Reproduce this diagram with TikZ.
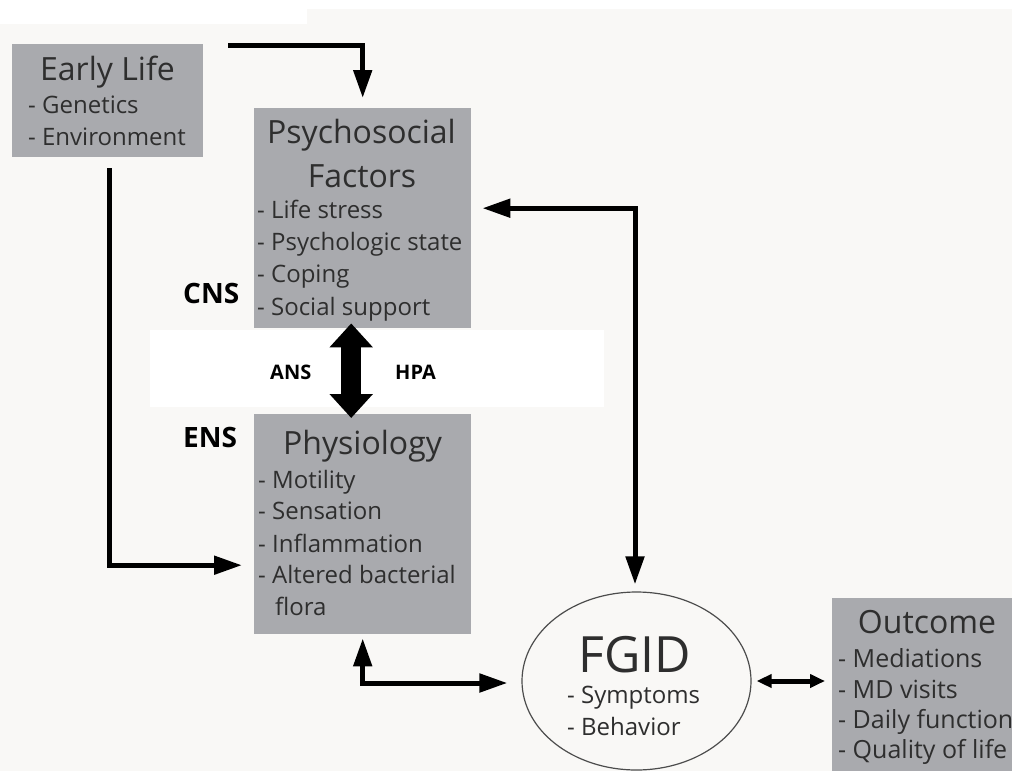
\documentclass[tikz,border=0pt]{standalone}
\usepackage{fontspec}
\setmainfont{Open Sans}
\usetikzlibrary{arrows.meta,shapes.geometric}
\definecolor{bg}{HTML}{F9F8F6}
\definecolor{boxgray}{HTML}{A9AAAE}
\definecolor{txt}{HTML}{2E2E2E}
\tikzset{
  box/.style={fill=boxgray, draw=none, inner sep=0pt, anchor=north west},
  ttl/.style={font=\fontsize{32}{38}\selectfont, text=txt, anchor=base, inner sep=0pt},
  itm/.style={font=\fontsize{24}{29}\selectfont, text=txt, anchor=base west, inner sep=0pt},
  oitm/.style={itm, font=\fontsize{25}{30}\selectfont},
  lbl/.style={font=\bfseries\fontsize{28}{32}\selectfont, text=black, anchor=base west, inner sep=0pt},
  slbl/.style={font=\bfseries\fontsize{20}{24}\selectfont, text=black, anchor=base west, inner sep=0pt},
  conn/.style={line width=5pt, black},
  atip/.tip={Triangle[length=28pt,width=18pt]},
  stip/.tip={Triangle[length=15pt,width=13pt]},
  btip/.tip={Triangle[length=24pt,width=42pt]}
}
\begin{document}
\begin{tikzpicture}[x=1pt,y=-1pt]
\useasboundingbox (0,0) rectangle (1012,771);
% background
\fill[bg] (0,0) rectangle (1012,771);
\fill[white] (0,0) rectangle (1012,9);
\fill[white] (0,0) rectangle (307,24);
\fill[white] (150,330) rectangle (604,407);

% boxes
\node[box, minimum width=191pt, minimum height=113pt] (early) at (12,44) {};
\node[box, minimum width=217pt, minimum height=220pt] (psy) at (254,108) {};
\node[box, minimum width=217pt, minimum height=220pt] (phys) at (254,414) {};
\node[box, minimum width=200pt, minimum height=190pt] (out) at (832,598) {};
\node[ellipse, draw=black!70, line width=1.2pt, fill=bg, minimum width=229pt, minimum height=178pt, inner sep=0pt] (fgid) at (636.5,681) {};

% Early Life text
\node[ttl] (t1) at (107.5,80) {Early Life};
\node[itm] (e1) at (28,113) {- Genetics};
\node[itm] (e2) at (28,145) {- Environment};

% Psychosocial text
\node[ttl] (t2) at (361.5,143) {Psychosocial};
\node[ttl] (t2b) at (362,187) {Factors};
\node[itm] (p1) at (257,218) {- Life stress};
\node[itm] (p2) at (257,250) {- Psychologic state};
\node[itm] (p3) at (257,282) {- Coping};
\node[itm] (p4) at (257,315) {- Social support};

% Physiology text
\node[ttl] (t3) at (362.5,454) {Physiology};
\node[itm] (h1) at (258,488) {- Motility};
\node[itm] (h2) at (258,519) {- Sensation};
\node[itm] (h3) at (258,552) {- Inflammation};
\node[itm] (h4) at (258,583) {- Altered bacterial};
\node[itm] (h5) at (275,615) {flora};

% Outcome text
\node[ttl] (t4) at (927,633) {Outcome};
\node[oitm] (o1) at (838,667) {- Mediations};
\node[oitm] (o2) at (838,698) {- MD visits};
\node[oitm] (o3) at (838,728) {- Daily function};
\node[oitm] (o4) at (838,758) {- Quality of life};

% FGID text
\node[font=\fontsize{50}{58}\selectfont, text=txt, anchor=base, inner sep=0pt] (t5) at (634.5,672) {FGID};
\node[itm] (f1) at (567,703) {- Symptoms};
\node[itm] (f2) at (567,735) {- Behavior};

% side labels
\node[lbl] (cns) at (183,303) {CNS};
\node[lbl] (ens) at (183,447) {ENS};
\node[slbl] (ans) at (270,379) {ANS};
\node[slbl] (hpa) at (395,379) {HPA};

% connectors
\draw[conn, -{atip}] ([xshift=25pt,yshift=-1pt]early.north east) -| ([yshift=10pt]psy.north);
\draw[conn, -{atip}] ([xshift=1.5pt,yshift=-11pt]early.south) |- ([xshift=-12pt,yshift=-41pt]phys.west);
\draw[conn, {atip}-{atip}] ([xshift=-1.5pt,yshift=7pt]fgid.north) |- ([xshift=11pt,yshift=10pt]psy.east);
\draw[conn, {atip}-{atip}] ([yshift=-4pt]phys.south) |- ([xshift=-14pt,yshift=-2pt]fgid.west);
\draw[conn, {stip}-{stip}] ([xshift=5pt]fgid.east) -- ([xshift=-7pt]fgid.east -| out.west);
\draw[line width=20pt, {btip}-{btip}] ([xshift=-11.5pt,yshift=5pt]psy.south) -- ([xshift=-11.5pt,yshift=-4pt]phys.north);
\end{tikzpicture}
\end{document}
